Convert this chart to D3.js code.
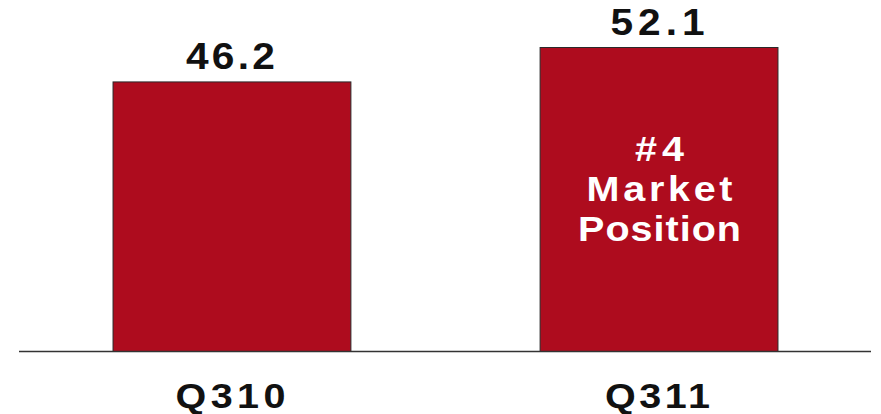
<!DOCTYPE html>
<html><head><meta charset="utf-8">
<script src="https://cdn.jsdelivr.net/npm/d3@7"></script>
<style>body{margin:0;background:#fff}svg{display:block}</style>
</head><body>
<script>
const categories = ["Q310", "Q311"];
const values = [46.2, 52.1];
const valueLabels = ["46.2", "52.1"];
const annotation = ["#4", "Market", "Position"];

const W = 881, H = 414;
const svg = d3.select("body").append("svg").attr("width", W).attr("height", H);

const x = d3.scaleBand().domain(categories).range([19, 871]).paddingInner(0.443).paddingOuter(0.219);
const y = d3.scaleLinear().domain([0, 52.1]).range([351, 47]);

const font = "'Liberation Sans', Arial, sans-serif";
// rendered text widths (style), matching the wide, spaced bold face of the original
const textWidths = {"46.2": 89, "52.1": 94, "Q310": 110, "Q311": 105, "#4": 49, "Market": 146, "Position": 163};
const stretch = 1.13;

function placeText(sel, size, fx, fy) {
  sel.attr("font-family", font).attr("font-weight", "bold").attr("font-size", size)
    .attr("text-anchor", "middle")
    .attr("x", 0).attr("y", 0)
    .attr("transform", (d, i) => `translate(${fx(d, i)},${fy(d, i)}) scale(${stretch},1)`)
    .attr("lengthAdjust", "spacing")
    .attr("textLength", function() { return textWidths[d3.select(this).text()] / stretch; });
}

svg.selectAll("rect.bar").data(values).join("rect")
  .attr("class", "bar")
  .attr("x", (d, i) => x(categories[i]) + 0.5)
  .attr("y", d => y(d) + 0.5)
  .attr("width", x.bandwidth())
  .attr("height", d => y(0) - y(d))
  .attr("fill", "#AE0C1E")
  .attr("stroke", "#2a2a2a")
  .attr("stroke-width", 1);

svg.append("line").attr("x1", 19).attr("x2", 871).attr("y1", y(0) + 0.5).attr("y2", y(0) + 0.5)
  .attr("stroke", "#333").attr("stroke-width", 1.3);

svg.selectAll("text.val").data(values).join("text").attr("class", "val")
  .text((d, i) => valueLabels[i])
  .attr("fill", "#111")
  .call(placeText, 36, (d, i) => x(categories[i]) + x.bandwidth() / 2 - 1, d => y(d) - 12.5);

svg.selectAll("text.cat").data(categories).join("text").attr("class", "cat")
  .text(d => d)
  .attr("fill", "#111")
  .call(placeText, 35, d => x(d) + x.bandwidth() / 2 - 1, () => 408);

const cx = x("Q311") + x.bandwidth() / 2;
svg.selectAll("text.ann").data(annotation).join("text").attr("class", "ann")
  .text(d => d)
  .attr("fill", "#fff")
  .call(placeText, 35, () => cx + 1, (d, i) => 161 + i * 40);
</script>
</body></html>
